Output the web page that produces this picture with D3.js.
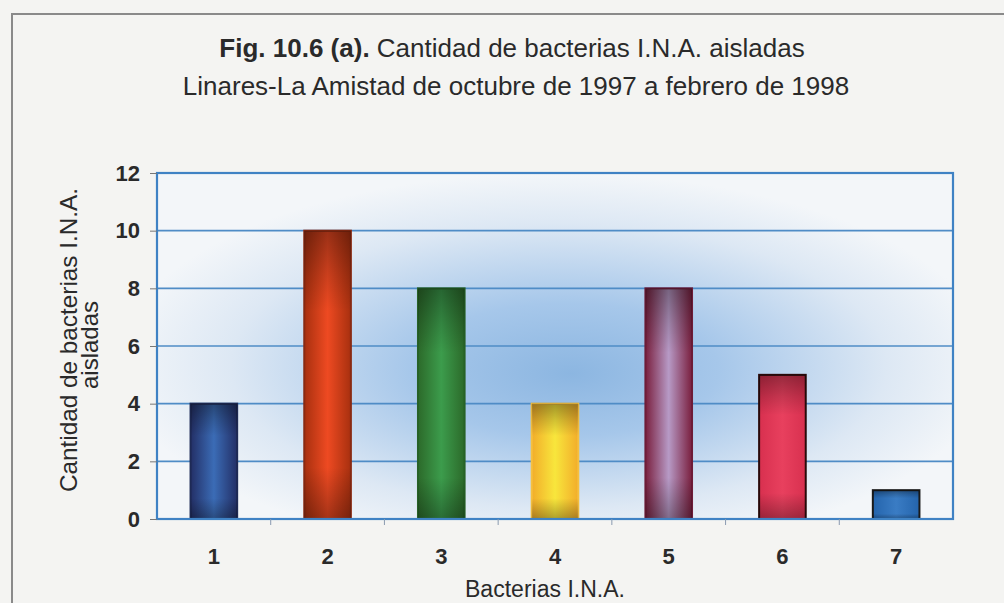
<!DOCTYPE html>
<html>
<head>
<meta charset="utf-8">
<script src="https://cdn.jsdelivr.net/npm/d3@7"></script>
<style>
  html, body { margin: 0; padding: 0; background: #f4f4f2; }
  svg { display: block; }
  text { font-family: "Liberation Sans", Arial, sans-serif; fill: #2a2a2a; }
</style>
</head>
<body>
<div id="chart"></div>
<script>
// data
const categories = ["1", "2", "3", "4", "5", "6", "7"]
const counts = [4, 10, 8, 4, 8, 5, 1]
const yTicks = [0, 2, 4, 6, 8, 10, 12]
// bar colours: edge, centre, outline
const barEdge = ["#232f66", "#a8300f", "#2c6a2a", "#f2ad2a", "#7a1f3e", "#d8304f", "#2464ac"]
const barCentre = ["#3b6cb6", "#ee4a22", "#3c9c4c", "#f8e63c", "#b79ac6", "#e8405e", "#3a7cc4"]
const barStroke = ["#1e2a55", "#8a2a12", "#276226", "#f5c040", "#6e1c38", "#2a0a0a", "#1a1a1a"]

const width = 1004
const height = 603
const margin = {top: 173, right: 51, bottom: 84, left: 157}
const plotW = width - margin.left - margin.right
const plotH = height - margin.top - margin.bottom

const svg = d3.select("#chart").append("svg")
  .attr("width", width)
  .attr("height", height)

const defs = svg.append("defs")
const bg = defs.append("radialGradient")
  .attr("id", "plotBg")
  .attr("cx", "50%").attr("cy", "55%").attr("r", "55%")
  .attr("fx", "52%").attr("fy", "58%")
bg.selectAll("stop")
  .data([
    {offset: "0%", color: "#8cb6e1"},
    {offset: "35%", color: "#a6c7ea"},
    {offset: "75%", color: "#dde8f4"},
    {offset: "100%", color: "#f3f6f9"},
  ])
  .enter().append("stop")
  .attr("offset", d => d.offset)
  .attr("stop-color", d => d.color)

categories.forEach((c, i) => {
  defs.append("linearGradient")
    .attr("id", "bar" + i)
    .attr("x1", 0).attr("y1", 0).attr("x2", "100%").attr("y2", 0)
    .selectAll("stop")
    .data([
      {offset: "0%", color: barEdge[i]},
      {offset: "50%", color: barCentre[i]},
      {offset: "100%", color: barEdge[i]},
    ])
    .enter().append("stop")
    .attr("offset", d => d.offset)
    .attr("stop-color", d => d.color)
})
// darkening at top and bottom of each bar
defs.append("linearGradient")
  .attr("id", "barShade")
  .attr("x1", 0).attr("y1", 0).attr("x2", 0).attr("y2", "100%")
  .selectAll("stop")
  .data([
    {offset: "0%", op: 0.35},
    {offset: "15%", op: 0.15},
    {offset: "28%", op: 0},
    {offset: "82%", op: 0},
    {offset: "100%", op: 0.3},
  ])
  .enter().append("stop")
  .attr("offset", d => d.offset)
  .attr("stop-color", "#000")
  .attr("stop-opacity", d => d.op)

// page frame
svg.append("path")
  .attr("d", `M12,${height} L12,14 L${width},14`)
  .attr("fill", "none")
  .attr("stroke", "#8a8a8a")
  .attr("stroke-width", 2)

// titles
const title = svg.append("text")
  .attr("x", 512).attr("y", 57)
  .attr("text-anchor", "middle")
  .style("font-size", "26px")
title.append("tspan").attr("font-weight", "bold").text("Fig. 10.6 (a).")
title.append("tspan").text(" Cantidad de bacterias I.N.A. aisladas")
svg.append("text")
  .attr("x", 516).attr("y", 95)
  .attr("text-anchor", "middle")
  .style("font-size", "26px")
  .text("Linares-La Amistad de octubre de 1997 a febrero de 1998")

const x = d3.scaleBand()
  .domain(categories)
  .range([0, plotW])
  .paddingInner(0.59)
  .paddingOuter(0.295)
const y = d3.scaleLinear()
  .domain([0, 12])
  .range([plotH, 0])

const chart = svg.append("g")
  .attr("transform", `translate(${margin.left},${margin.top})`)

chart.append("rect")
  .attr("width", plotW)
  .attr("height", plotH)
  .attr("fill", "url(#plotBg)")

// grid
chart.append("g")
  .selectAll("line")
  .data(yTicks.slice(1, -1))
  .enter().append("line")
  .attr("x1", 0).attr("x2", plotW)
  .attr("y1", d => y(d)).attr("y2", d => y(d))
  .attr("stroke", "#4f8cc6")
  .attr("stroke-width", 1.6)

// bars
const bars = chart.append("g")
  .selectAll("g")
  .data(categories)
  .enter().append("g")
bars.append("rect")
  .attr("x", d => x(d))
  .attr("y", (d, i) => y(counts[i]))
  .attr("width", x.bandwidth())
  .attr("height", (d, i) => y(0) - y(counts[i]))
  .attr("fill", (d, i) => "url(#bar" + i + ")")
  .attr("stroke", (d, i) => barStroke[i])
  .attr("stroke-width", 2)
bars.append("rect")
  .attr("x", d => x(d))
  .attr("y", (d, i) => y(counts[i]))
  .attr("width", x.bandwidth())
  .attr("height", (d, i) => y(0) - y(counts[i]))
  .attr("fill", "url(#barShade)")

// plot border
chart.append("rect")
  .attr("width", plotW)
  .attr("height", plotH)
  .attr("fill", "none")
  .attr("stroke", "#3f82c4")
  .attr("stroke-width", 2.2)

// y axis
const yAxis = chart.append("g")
  .call(d3.axisLeft(y).tickValues(yTicks).tickSize(7).tickPadding(10))
yAxis.select(".domain").remove()
yAxis.selectAll(".tick line").attr("stroke", "#777")
yAxis.selectAll(".tick text")
  .style("font-size", "22px")
  .style("font-family", "'Liberation Sans', Arial, sans-serif")
  .attr("font-weight", "bold")
  .attr("fill", "#333")

// x axis: ticks sit between categories
const xAxis = chart.append("g")
  .attr("transform", `translate(0,${plotH})`)
  .call(d3.axisBottom(x).tickSize(0).tickPadding(29))
xAxis.select(".domain").remove()
xAxis.selectAll(".tick text")
  .style("font-size", "22px")
  .style("font-family", "'Liberation Sans', Arial, sans-serif")
  .attr("font-weight", "bold")
  .attr("fill", "#3a3a3a")
chart.append("g")
  .selectAll("line")
  .data(categories.slice(0, -1))
  .enter().append("line")
  .attr("x1", d => x(d) + x.bandwidth() + (x.step() - x.bandwidth()) / 2)
  .attr("x2", d => x(d) + x.bandwidth() + (x.step() - x.bandwidth()) / 2)
  .attr("y1", plotH)
  .attr("y2", plotH + 6)
  .attr("stroke", "#8a9ab0")

// axis titles
svg.append("text")
  .attr("x", 545).attr("y", 597)
  .attr("text-anchor", "middle")
  .style("font-size", "23px")
  .attr("textLength", 160)
  .attr("lengthAdjust", "spacingAndGlyphs")
  .text("Bacterias  I.N.A.")
const yTitle = svg.append("text")
  .attr("transform", "translate(77,340) rotate(-90)")
  .attr("text-anchor", "middle")
  .style("font-size", "24px")
yTitle.append("tspan").attr("x", 0).attr("dy", 0)
  .attr("textLength", 304)
  .attr("lengthAdjust", "spacingAndGlyphs")
  .text("Cantidad de bacterias I.N.A.")
yTitle.append("tspan").attr("x", -5).attr("dy", 21).text("aisladas")
</script>
</body>
</html>
